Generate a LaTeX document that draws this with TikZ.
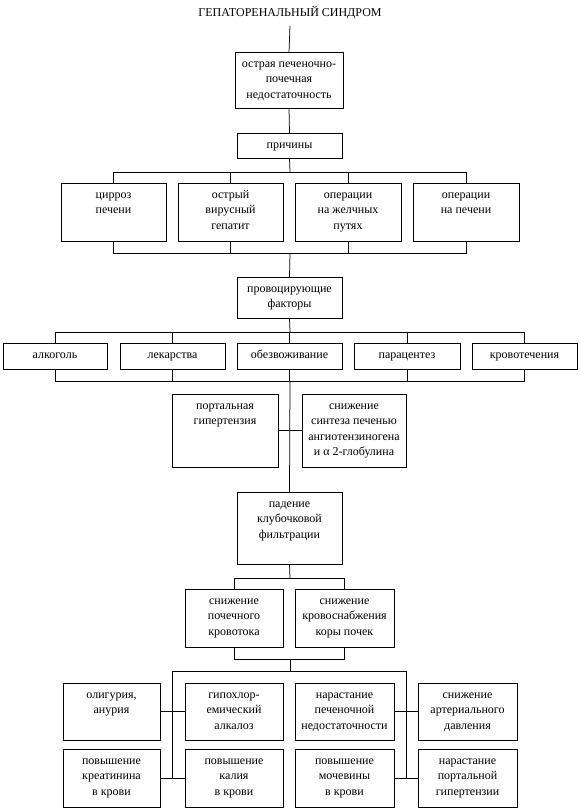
\documentclass[tikz,border=0pt]{standalone}
\usepackage{fontspec}
\setmainfont{Liberation Serif}
\tikzset{
  box/.style={draw, line width=0.75pt, inner sep=0pt, outer sep=0pt},
  ln/.style={line width=0.75pt}
}
\newcommand\bx[6]{\node[box] (#1) at ({(#2+#4)/2},{(#3+#5)/2})
  {\parbox[c][\dimexpr #5pt-#3pt\relax][t]{\dimexpr #4pt-#2pt\relax}{\centering\rule{0pt}{15pt}#6\par}};}
\begin{document}
\fontsize{12pt}{15.5pt}\selectfont
\begin{tikzpicture}[x=1pt,y=-1pt]
\useasboundingbox (0,0) rectangle (579,808);
\node[anchor=base, inner sep=0pt] (title) at (290,17) {ГЕПАТОРЕНАЛЬНЫЙ СИНДРОМ};
\coordinate (t0) at (290,26);
\bx{b1}{235}{52}{343}{108}{острая печеночно-\\почечная\\недостаточность}
\bx{pr}{237}{133}{342}{158}{причины}
\bx{cA}{61}{183}{166}{241}{цирроз\\печени}
\bx{cB}{178}{183}{283}{241}{острый\\вирусный\\гепатит}
\bx{cC}{295}{183}{401}{241}{операции\\на желчных\\путях}
\bx{cD}{413}{183}{519}{241}{операции\\на печени}
\bx{pf}{237}{277}{342}{318}{провоцирующие\\факторы}
\bx{f1}{3}{343}{107}{369}{алкоголь}
\bx{f2}{120}{343}{225}{369}{лекарства}
\bx{f3}{237}{343}{342}{369}{обезвоживание}
\bx{f4}{354}{343}{460}{369}{парацентез}
\bx{f5}{472}{343}{577}{369}{кровотечения}
\bx{pg}{172}{394}{278}{467}{портальная\\гипертензия}
\bx{ss}{302}{394}{406}{467}{снижение\\синтеза печенью\\ангиотензиногена\\и α 2-глобулина}
\bx{pd}{237}{492}{342}{564}{падение\\клубочковой\\фильтрации}
\bx{k1}{185}{589}{283}{647}{снижение\\почечного\\кровотока}
\bx{k2}{295}{589}{394}{647}{снижение\\кровоснабжения\\коры почек}
\bx{r1}{63}{683}{160}{740}{олигурия,\\анурия}
\bx{r2}{185}{683}{283}{740}{гипохлор-\\емический\\алкалоз}
\bx{r3}{295}{683}{394}{740}{нарастание\\печеночной\\недостаточности}
\bx{r4}{418}{683}{517}{740}{снижение\\артериального\\давления}
\bx{s1}{63}{749}{160}{807}{повышение\\креатинина\\в крови}
\bx{s2}{185}{749}{283}{807}{повышение\\калия\\в крови}
\bx{s3}{295}{749}{394}{807}{повышение\\мочевины\\в крови}
\bx{s4}{418}{749}{517}{807}{нарастание\\портальной\\гипертензии}
% connectors
\coordinate (bar1) at (290,172);
\coordinate (bar2) at (290,253);
\coordinate (bar3) at (290,332);
\coordinate (bar4) at (290,381);
\coordinate (bar5) at (290,578);
\coordinate (bar6) at (290,659);
\coordinate (bar7) at (290,671);
\coordinate (L) at (172,671);
\coordinate (R) at (406,671);
\draw[ln] (t0) -- (b1.north);
\draw[ln] (b1.south) -- (pr.north);
\draw[ln] (pr.south) -- (bar1);
\draw[ln] (cA.north) -- (cA.north |- bar1) -- (cD.north |- bar1) -- (cD.north);
\draw[ln] (cB.north) -- (cB.north |- bar1);
\draw[ln] (cC.north) -- (cC.north |- bar1);
\draw[ln] (cA.south) -- (cA.south |- bar2) -- (cD.south |- bar2) -- (cD.south);
\draw[ln] (cB.south) -- (cB.south |- bar2);
\draw[ln] (cC.south) -- (cC.south |- bar2);
\draw[ln] (bar2) -- (pf.north);
\draw[ln] (pf.south) -- (bar3);
\draw[ln] (f1.north) -- (f1.north |- bar3) -- (f5.north |- bar3) -- (f5.north);
\draw[ln] (f2.north) -- (f2.north |- bar3);
\draw[ln] (f3.north) -- (f3.north |- bar3);
\draw[ln] (f4.north) -- (f4.north |- bar3);
\draw[ln] (f1.south) -- (f1.south |- bar4) -- (f5.south |- bar4) -- (f5.south);
\draw[ln] (f2.south) -- (f2.south |- bar4);
\draw[ln] (f3.south) -- (f3.south |- bar4);
\draw[ln] (f4.south) -- (f4.south |- bar4);
\draw[ln] (bar4) -- (pd.north);
\draw[ln] (pg.east) -- (ss.west);
\draw[ln] (pd.south) -- (bar5);
\draw[ln] (k1.north) -- (k1.north |- bar5) -- (k2.north |- bar5) -- (k2.north);
\draw[ln] (k1.south) -- (k1.south |- bar6) -- (k2.south |- bar6) -- (k2.south);
\draw[ln] (bar6) -- (bar7);
\draw[ln] (L |- s1.east) -- (L) -- (R) -- (R |- s4.west);
\draw[ln] (r1.east) -- (r2.west);
\draw[ln] (s1.east) -- (s2.west);
\draw[ln] (r3.east) -- (r4.west);
\draw[ln] (s3.east) -- (s4.west);
\end{tikzpicture}
\end{document}
